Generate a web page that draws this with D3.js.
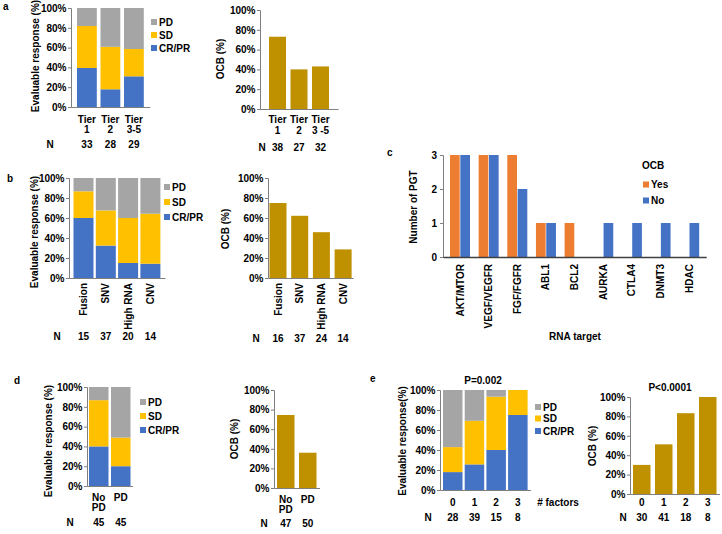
<!DOCTYPE html>
<html><head><meta charset="utf-8">
<script src="https://cdn.jsdelivr.net/npm/d3@7"></script>
<style>
body{margin:0;background:#fff;}
svg text{font-family:Arial,"Liberation Sans",sans-serif;}
</style></head><body>
<svg id="fig" width="722" height="534"></svg>
<script>
// ---------------- DATA ----------------
const pctTicks = [0, 20, 40, 60, 80, 100];
const respKeys = ["CRPR", "SD", "PD"];
const respLegend = ["PD", "SD", "CR/PR"];

// panel a
const aRespCats = ["Tier|1", "Tier|2", "Tier|3-5"];
const aCRPR = [39.4, 17.9, 31.0];
const aSD   = [42.4, 42.9, 27.6];
const aPD   = [18.2, 39.2, 41.4];
const aRespN = [33, 28, 29];
const aOcbCats = ["Tier|1", "Tier|2", "Tier|3 -5"];
const aOcb  = [73, 40, 43];
const aOcbN = [38, 27, 32];

// panel b
const bCats = ["Fusion", "SNV", "High RNA", "CNV"];
const bCRPR = [60.0, 32.4, 15.0, 14.3];
const bSD   = [26.7, 35.2, 45.0, 50.0];
const bPD   = [13.3, 32.4, 40.0, 35.7];
const bRespN = [15, 37, 20, 14];
const bOcb  = [75.0, 62.2, 45.8, 28.6];
const bOcbN = [16, 37, 24, 14];

// panel c
const cCats = ["AKT/MTOR", "VEGF/VEGFR", "FGF/FGFR", "ABL1", "BCL2", "AURKA", "CTLA4", "DNMT3", "HDAC"];
const cGroups = ["Yes", "No"];
const cYes = [3, 3, 3, 1, 1, 0, 0, 0, 0];
const cNo  = [3, 3, 2, 1, 0, 1, 1, 1, 1];
const cTicks = [0, 1, 2, 3];

// panel d
const dCats = ["No|PD", "PD"];
const dCRPR = [40.0, 20.0];
const dSD   = [46.7, 28.9];
const dPD   = [13.3, 51.1];
const dRespN = [45, 45];
const dOcb  = [74.5, 36.0];
const dOcbN = [47, 50];

// panel e
const eCats = ["0", "1", "2", "3"];
const eCRPR = [17.9, 25.6, 40.0, 75.0];
const eSD   = [25.0, 43.6, 53.3, 25.0];
const ePD   = [57.1, 30.8, 6.7, 0];
const eRespN = [28, 39, 15, 8];
const eOcb  = [30.0, 51.2, 83.3, 100];
const eOcbN = [30, 41, 18, 8];

// ---------------- STYLE ----------------
const COL = {CRPR: "#4472C4", SD: "#FFC000", PD: "#A5A5A5", OCB: "#BF9000", Yes: "#ED7D31", No: "#4472C4"};
const legendCol = {"PD": COL.PD, "SD": COL.SD, "CR/PR": COL.CRPR};
const AXC = "#7f7f7f";
const FONT = "Arial, 'Liberation Sans', sans-serif";

const svg = d3.select("#fig");

function styleAxis(g, weight) {
  g.attr("font-family", FONT).attr("font-size", 10).attr("font-weight", weight || "bold");
  g.selectAll("path.domain").attr("stroke", AXC);
  g.selectAll(".tick line").attr("stroke", AXC);
  g.selectAll(".tick text").attr("fill", "#000");
}

function bandScale(cats, axisX, s, step, bw) {
  const n = cats.length, p = 1 - bw / step, o = (s - axisX) / step;
  return d3.scaleBand().domain(cats).range([axisX, axisX + step * (n - p + 2 * o)])
    .paddingInner(p).paddingOuter(o);
}

function drawXAxis(x, c) {
  const xg = svg.append("g").attr("transform", `translate(0,${c.yBot})`)
    .call(d3.axisBottom(x).tickSize(0).tickPadding(0));
  styleAxis(xg);
  xg.selectAll(".tick text").each(function (d) {
    const t = d3.select(this);
    if (c.rotY) {
      t.attr("transform", "rotate(-90)").attr("text-anchor", "end")
        .attr("x", -(c.rotY - c.yBot)).attr("y", 0).attr("dy", "0.35em");
    } else {
      const parts = d.split("|");
      t.text(null).attr("y", null).attr("dy", null);
      parts.forEach((p, i) => t.append("tspan").attr("x", 0)
        .attr("y", c.lblY - c.yBot + i * 10.5).attr("dy", "0.35em").text(p));
    }
  });
}

function drawYAxis(y, c, fmt) {
  const yg = svg.append("g").attr("transform", `translate(${c.axisX},0)`)
    .call(d3.axisLeft(y).tickValues(pctTicks).tickFormat(fmt).tickSize(3).tickPadding(1.5));
  styleAxis(yg);
}

function yLabel(text, x, y, weight) {
  svg.append("text").attr("transform", `translate(${x},${y}) rotate(-90)`)
    .attr("text-anchor", "middle").attr("dominant-baseline", "central")
    .attr("font-family", FONT).attr("font-size", 10).attr("font-weight", weight || "bold")
    .text(text);
}

function nRow(x, c, vals) {
  svg.append("text").attr("x", c.nX).attr("y", c.nY).attr("dy", "0.35em")
    .attr("text-anchor", "middle").attr("font-family", FONT).attr("font-size", 10)
    .attr("font-weight", "bold").text("N");
  svg.append("g").selectAll("text").data(c.cats).join("text")
    .attr("x", d => x(d) + x.bandwidth() / 2).attr("y", c.nY).attr("dy", "0.35em")
    .attr("text-anchor", "middle").attr("font-family", FONT).attr("font-size", 10)
    .attr("font-weight", "bold").text((d, i) => vals[i]);
}

function drawResp(c) {
  const x = bandScale(c.cats, c.axisX, c.s, c.step, c.bw);
  const y = d3.scaleLinear().domain([0, 100]).range([c.yBot, c.yTop]);
  const rows = c.cats.map((k, i) => ({k, CRPR: c.crpr[i], SD: c.sd[i], PD: c.pd[i]}));
  const series = d3.stack().keys(respKeys)(rows);
  svg.append("g").selectAll("g").data(series).join("g").attr("fill", d => COL[d.key])
    .selectAll("rect").data(d => d).join("rect")
    .attr("x", d => x(d.data.k)).attr("width", x.bandwidth())
    .attr("y", d => y(d[1])).attr("height", d => y(d[0]) - y(d[1]));
  drawYAxis(y, c, d => d + "%");
  drawXAxis(x, c);
  yLabel(c.ylab || "Evaluable response (%)", c.ylabX, c.ylabY);
  // legend
  const lg = svg.append("g");
  respLegend.forEach((k, i) => {
    lg.append("rect").attr("x", c.legX).attr("y", c.legY[i] - 3).attr("width", 6).attr("height", 6)
      .attr("fill", legendCol[k]);
    lg.append("text").attr("x", c.legX + 8).attr("y", c.legY[i]).attr("dy", "0.35em")
      .attr("font-family", FONT).attr("font-size", 10).attr("font-weight", "bold").text(k);
  });
  nRow(x, c, c.n);
  return x;
}

function drawOcb(c) {
  const x = bandScale(c.cats, c.axisX, c.s, c.step, c.bw);
  const y = d3.scaleLinear().domain([0, 100]).range([c.yBot, c.yTop]);
  svg.append("g").selectAll("rect").data(c.vals).join("rect")
    .attr("x", (d, i) => x(c.cats[i])).attr("width", x.bandwidth())
    .attr("y", d => y(d)).attr("height", d => c.yBot - y(d)).attr("fill", COL.OCB);
  drawYAxis(y, c, d => d + "%");
  drawXAxis(x, c);
  yLabel("OCB (%)", c.ylabX, c.ylabY);
  nRow(x, c, c.n);
  return x;
}

function panelLabel(t, x, y) {
  svg.append("text").attr("x", x).attr("y", y).attr("dy", "0.35em")
    .attr("font-family", FONT).attr("font-size", 10).attr("font-weight", "bold").text(t);
}

// ---------------- PANEL A ----------------
panelLabel("a", 3, 6);
drawResp({cats: aRespCats, crpr: aCRPR, sd: aSD, pd: aPD, n: aRespN,
  axisX: 71, s: 77, step: 23.5, bw: 19.8, yTop: 8, yBot: 107,
  lblY: 119, nX: 50, nY: 144, ylabX: 35, ylabY: 56,
  legX: 151, legY: [22, 35, 48]});
drawOcb({cats: aOcbCats, vals: aOcb, n: aOcbN,
  axisX: 260, s: 269, step: 21.5, bw: 17, yTop: 10, yBot: 109,
  lblY: 119.5, nX: 262, nY: 147, ylabX: 220, ylabY: 59});

// ---------------- PANEL B ----------------
panelLabel("b", 7, 178);
drawResp({cats: bCats, crpr: bCRPR, sd: bSD, pd: bPD, n: bRespN,
  axisX: 69, s: 73.5, step: 22.3, bw: 20, yTop: 178, yBot: 278,
  rotY: 283, nX: 57, nY: 336, ylabX: 34, ylabY: 232,
  legX: 164, legY: [187, 202, 217]});
drawOcb({cats: bCats, vals: bOcb, n: bOcbN,
  axisX: 268, s: 269.5, step: 21.7, bw: 17, yTop: 178, yBot: 278,
  rotY: 283, nX: 256, nY: 338, ylabX: 225, ylabY: 229});

// ---------------- PANEL C ----------------
panelLabel("c", 387, 152);
(function () {
  const axisX = 443, yTop = 155, yBot = 257;
  const x0 = bandScale(cCats, axisX, 450, 28.65, 20);
  const x1 = d3.scaleBand().domain(cGroups).range([0, x0.bandwidth()]).paddingInner(0.06);
  const y = d3.scaleLinear().domain([0, 3]).range([yBot, yTop]);
  const rows = cCats.map((k, i) => ({k, Yes: cYes[i], No: cNo[i]}));
  svg.append("g").selectAll("g").data(rows).join("g")
    .attr("transform", d => `translate(${x0(d.k)},0)`)
    .selectAll("rect").data(d => cGroups.map(gk => ({gk, v: d[gk]}))).join("rect")
    .attr("x", d => x1(d.gk)).attr("width", x1.bandwidth())
    .attr("y", d => y(d.v)).attr("height", d => yBot - y(d.v)).attr("fill", d => COL[d.gk]);
  const yg = svg.append("g").attr("transform", `translate(${axisX},0)`)
    .call(d3.axisLeft(y).tickValues(cTicks).tickFormat(d3.format("d")).tickSize(3).tickPadding(3));
  styleAxis(yg);
  const xg = svg.append("g").attr("transform", `translate(0,${yBot})`)
    .call(d3.axisBottom(x0).tickSize(0).tickPadding(0));
  styleAxis(xg, "bold");
  xg.select("path.domain").attr("stroke", "#404040").attr("stroke-width", 1.3);
  xg.selectAll(".tick text").attr("transform", "rotate(-90)").attr("text-anchor", "end")
    .attr("x", -7).attr("y", 0).attr("dy", "0.35em");
  yLabel("Number of PGT", 413, 207, "bold");
  svg.append("text").attr("x", 575).attr("y", 336).attr("dy", "0.35em").attr("text-anchor", "middle")
    .attr("font-family", FONT).attr("font-size", 10).attr("font-weight", "bold").text("RNA target");
  svg.append("text").attr("x", 642).attr("y", 165).attr("dy", "0.35em")
    .attr("font-family", FONT).attr("font-size", 10).attr("font-weight", "bold").text("OCB");
  const legY = [184.5, 200.5];
  cGroups.forEach((k, i) => {
    svg.append("rect").attr("x", 643).attr("y", legY[i] - 3).attr("width", 6).attr("height", 6).attr("fill", COL[k]);
    svg.append("text").attr("x", 651).attr("y", legY[i]).attr("dy", "0.35em")
      .attr("font-family", FONT).attr("font-size", 10).attr("font-weight", "bold").text(k);
  });
})();

// ---------------- PANEL D ----------------
panelLabel("d", 14, 380);
drawResp({cats: dCats, crpr: dCRPR, sd: dSD, pd: dPD, n: dRespN,
  axisX: 87, s: 89, step: 22, bw: 19.5, yTop: 387, yBot: 486,
  lblY: 497, nX: 70, nY: 522, ylabX: 48, ylabY: 441,
  legX: 140, legY: [402, 416, 430]});
drawOcb({cats: dCats, vals: dOcb, n: dOcbN,
  axisX: 274, s: 277, step: 22, bw: 17.5, yTop: 390, yBot: 488,
  lblY: 499, nX: 264, nY: 523, ylabX: 234, ylabY: 439});

// ---------------- PANEL E ----------------
panelLabel("e", 370, 378);
drawResp({cats: eCats, crpr: eCRPR, sd: eSD, pd: ePD, n: eRespN,
  axisX: 440, s: 443, step: 21.7, bw: 19.5, yTop: 390, yBot: 490,
  lblY: 502, nX: 428, nY: 517, ylabX: 402, ylabY: 441,
  ylab: "Evaluable response(%)",
  legX: 535, legY: [407, 418.5, 431]});
drawOcb({cats: eCats, vals: eOcb, n: eOcbN,
  axisX: 630, s: 633, step: 22, bw: 17.5, yTop: 397, yBot: 494,
  lblY: 502, nX: 623, nY: 517, ylabX: 592, ylabY: 446});
svg.append("text").attr("x", 558).attr("y", 502).attr("dy", "0.35em").attr("text-anchor", "middle")
  .attr("font-family", FONT).attr("font-size", 10).attr("font-weight", "bold").text("# factors");
svg.append("text").attr("x", 483).attr("y", 380).attr("dy", "0.35em").attr("text-anchor", "middle")
  .attr("font-family", FONT).attr("font-size", 10).attr("font-weight", "bold").text("P=0.002");
svg.append("text").attr("x", 670).attr("y", 387).attr("dy", "0.35em").attr("text-anchor", "middle")
  .attr("font-family", FONT).attr("font-size", 10).attr("font-weight", "bold").text("P<0.0001");
</script>
</body></html>
